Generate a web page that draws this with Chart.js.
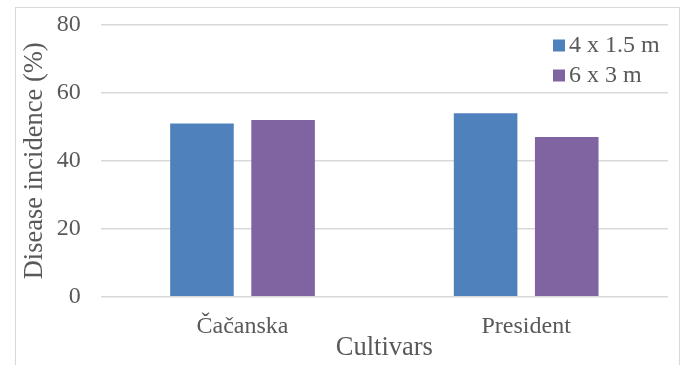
<!DOCTYPE html>
<html>
<head>
<meta charset="utf-8">
<title>Disease incidence by cultivar</title>
<script src="https://cdn.jsdelivr.net/npm/chart.js@4/dist/chart.umd.min.js"></script>
<style>
  html, body { margin:0; padding:0; background:#fff; }
  #wrap { position:relative; width:683px; height:365px; }
</style>
</head>
<body>
<div id="wrap"><canvas id="chart" width="683" height="365"></canvas></div>
<script>
/* chart data */
const CULTIVARS = ['Čačanska', 'President'];
const SPACING_A = [51, 54];   // 4 x 1.5 m
const SPACING_B = [52, 47];   // 6 x 3 m
const SERIES_NAMES = ['4 x 1.5 m', '6 x 3 m'];
const Y_TICKS = [0, 20, 40, 60, 80];

const FONT = "'Liberation Serif', 'Times New Roman', serif";
const TEXT = '#595959';
const GRID = '#d9d9d9';
const COLORS = ['#4f81bd', '#8064a2'];

// outer frame of the chart (bottom edge is cut off in the picture)
const framePlugin = {
  id: 'frame',
  beforeDraw(chart){
    const ctx = chart.ctx;
    ctx.save();
    ctx.strokeStyle = GRID;
    ctx.lineWidth = 1;
    ctx.strokeRect(15.5, 7.5, 664, 500);
    ctx.restore();
  }
};

// legend sits inside the plot, top right, one item per row
const legendPlugin = {
  id: 'cornerLegend',
  afterDraw(chart){
    const ctx = chart.ctx;
    ctx.save();
    ctx.font = `24px ${FONT}`;
    ctx.textBaseline = 'middle';
    ctx.textAlign = 'left';
    chart.data.datasets.forEach((ds, i) => {
      const cy = 45.5 + i * 30;
      ctx.fillStyle = ds.backgroundColor;
      ctx.fillRect(553, cy - 6, 12, 12);
      ctx.fillStyle = TEXT;
      ctx.fillText(ds.label, 569, cy);
    });
    ctx.restore();
  }
};

new Chart(document.getElementById('chart'), {
  type: 'bar',
  data: {
    labels: CULTIVARS,
    datasets: [
      { label: SERIES_NAMES[0], data: SPACING_A, backgroundColor: COLORS[0] },
      { label: SERIES_NAMES[1], data: SPACING_B, backgroundColor: COLORS[1] }
    ]
  },
  options: {
    responsive: false,
    animation: false,
    events: [],
    categoryPercentage: 0.572,
    barPercentage: 0.784,
    layout: { padding: { left: 0, top: 25, right: 15, bottom: 0 } },
    plugins: { legend: { display: false }, tooltip: { enabled: false } },
    scales: {
      x: {
        grid: { display: false },
        border: { display: false },
        ticks: { color: TEXT, font: { family: FONT, size: 24 }, padding: 8 },
        title: { display: true, text: 'Cultivars', color: TEXT,
                 font: { family: FONT, size: 26.5, lineHeight: 1 }, padding: { top: 0, bottom: 4 } },
        afterFit(s){ s.height = 68.3; }
      },
      y: {
        min: 0, max: 80,
        grid: { color: GRID, lineWidth: 1.5, drawTicks: false },
        border: { display: false },
        afterBuildTicks(s){ s.ticks = Y_TICKS.map(v => ({ value: v })); },
        ticks: { color: TEXT, font: { family: FONT, size: 24 }, padding: 20 },
        title: { display: true, text: 'Disease incidence (%)', color: TEXT,
                 font: { family: FONT, size: 26.5, lineHeight: 1 }, padding: { top: 21.3, bottom: 0 } },
        afterFit(s){ s.width = 100.7; s.paddingTop = 0; s.paddingBottom = 0; }
      }
    }
  },
  plugins: [framePlugin, legendPlugin]
});
</script>
</body>
</html>
